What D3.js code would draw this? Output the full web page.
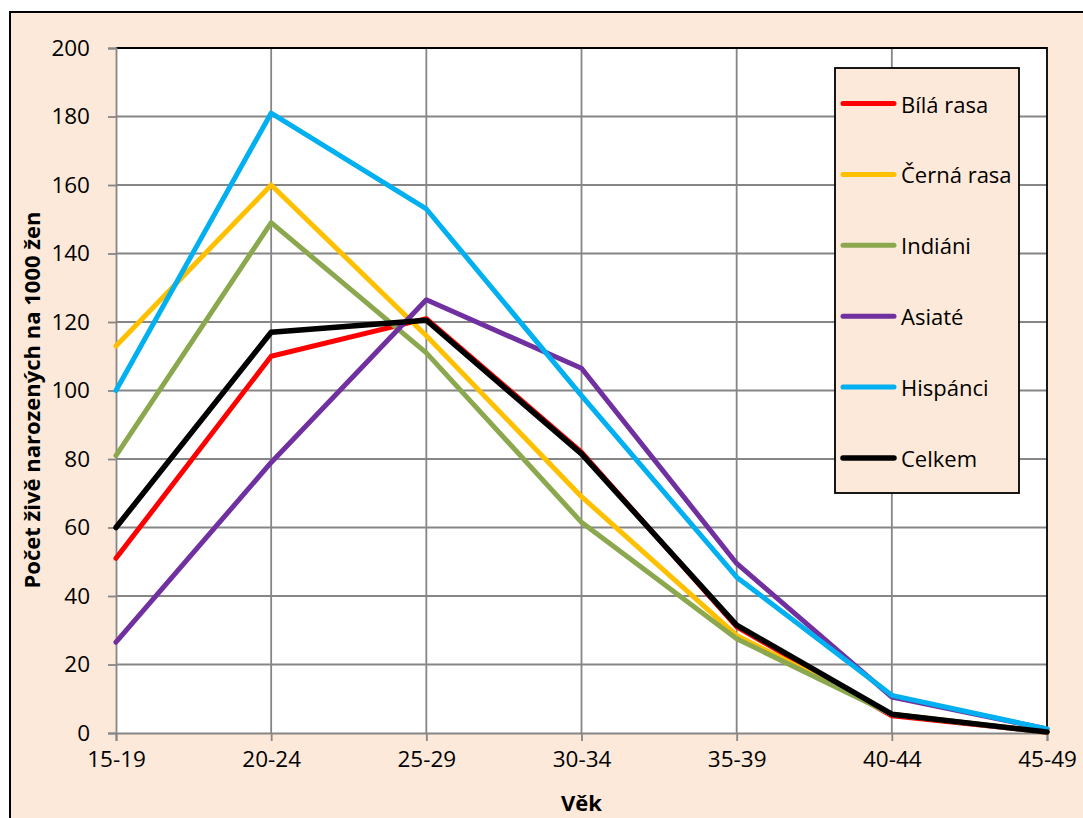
<!DOCTYPE html>
<html><head><meta charset="utf-8">
<script src="https://cdn.jsdelivr.net/npm/d3@7"></script>
<style>
html,body{margin:0;padding:0;background:#fff;}
svg{display:block;}
text{font-family:"Open Sans",sans-serif;fill:#000;}
</style></head>
<body>
<script>
const categories = ["15-19","20-24","25-29","30-34","35-39","40-44","45-49"];
const yTicks = [0,20,40,60,80,100,120,140,160,180,200];
const seriesNames = ["Bílá rasa","Černá rasa","Indiáni","Asiaté","Hispánci","Celkem"];
const seriesColors = ["#FF0000","#FFC000","#8CA84E","#7030A0","#00B0F0","#000000"];
const bila     = [51, 110, 121, 82, 31, 5, 0.3];
const cerna    = [113, 160, 116, 69, 28.5, 5.5, 0.3];
const indiani  = [81, 149, 111, 61.5, 27.5, 5.5, 0.3];
const asiate   = [26.5, 79, 126.5, 106.5, 49.5, 10.5, 1.2];
const hispanci = [100, 181, 153, 98.5, 45.5, 11, 1.2];
const celkem   = [60, 117, 120.5, 81.5, 31.5, 5.5, 0.3];
const seriesValues = [bila, cerna, indiani, asiate, hispanci, celkem];
const yTitle = "Počet živě narozených na 1000 žen";
const xTitle = "Věk";

const W = 1083, H = 818;
const svg = d3.select("body").append("svg").attr("width", W).attr("height", H);

// chart area background + border
svg.append("rect").attr("x", 10).attr("y", 12).attr("width", W + 20).attr("height", H + 20)
  .attr("fill", "#FDE9D9").attr("stroke", "#000").attr("stroke-width", 2);

const plot = {left: 116, right: 1047, top: 48, bottom: 733};
const x = d3.scalePoint().domain(categories).range([plot.left, plot.right]);
const y = d3.scaleLinear().domain([0, 200]).range([plot.bottom, plot.top]);

svg.append("rect").attr("x", plot.left).attr("y", plot.top)
  .attr("width", plot.right - plot.left).attr("height", plot.bottom - plot.top)
  .attr("fill", "#fff");

const grid = "#868686";
// horizontal grid
svg.append("g").selectAll("line").data(yTicks.filter(d => d > 0)).join("line")
  .attr("x1", plot.left).attr("x2", plot.right)
  .attr("y1", d => y(d)).attr("y2", d => y(d))
  .attr("stroke", grid).attr("stroke-width", 1.8);
// vertical grid
svg.append("g").selectAll("line").data(categories.slice(1, -1)).join("line")
  .attr("x1", d => x(d)).attr("x2", d => x(d))
  .attr("y1", plot.top).attr("y2", plot.bottom)
  .attr("stroke", grid).attr("stroke-width", 1.8);

// plot border top/right
svg.append("path")
  .attr("d", `M${plot.left},${plot.top}H${plot.right}V${plot.bottom}`)
  .attr("fill", "none").attr("stroke", "#000").attr("stroke-width", 1.8);

// axes
const yAxis = d3.axisLeft(y).tickValues(yTicks).tickSize(8).tickPadding(18);
const gy = svg.append("g").attr("transform", `translate(${plot.left},0)`).call(yAxis);
gy.select(".domain").attr("stroke", grid).attr("stroke-width", 1.8);
gy.selectAll(".tick line").attr("stroke", grid).attr("stroke-width", 1.8);
gy.selectAll(".tick text").attr("font-size", 22.5).attr("font-family", "Open Sans").attr("fill", "#000");

const xAxis = d3.axisBottom(x).tickSize(8).tickPadding(10);
const gx = svg.append("g").attr("transform", `translate(0,${plot.bottom})`).call(xAxis);
gx.select(".domain").attr("stroke", grid).attr("stroke-width", 1.8);
gx.selectAll(".tick line").attr("stroke", grid).attr("stroke-width", 1.8);
gx.selectAll(".tick text").attr("font-size", 22.5).attr("font-family", "Open Sans").attr("fill", "#000");

// lines
const line = d3.line().x((d, i) => x(categories[i])).y(d => y(d));
svg.append("g").selectAll("path").data(seriesValues).join("path")
  .attr("d", d => line(d))
  .attr("fill", "none")
  .attr("stroke", (d, i) => seriesColors[i])
  .attr("stroke-width", (d, i) => i === 5 ? 5.5 : 5)
  .attr("stroke-linejoin", "round")
  .attr("stroke-linecap", "round");

// axis titles
svg.append("text")
  .attr("transform", `translate(31,400) rotate(-90)`)
  .attr("text-anchor", "middle").attr("dominant-baseline", "central")
  .attr("font-size", 22).attr("font-weight", "bold").text(yTitle);
svg.append("text")
  .attr("x", (plot.left + plot.right) / 2).attr("y", 811)
  .attr("text-anchor", "middle")
  .attr("font-size", 22).attr("font-weight", "bold").text(xTitle);

// legend
const lg = svg.append("g");
lg.append("rect").attr("x", 835).attr("y", 68).attr("width", 184).attr("height", 425)
  .attr("fill", "#FDE9D9").attr("stroke", "#000").attr("stroke-width", 1.8);
const ly = d3.scalePoint().domain(seriesNames).range([103.5, 458]);
const items = lg.selectAll("g.item").data(seriesNames).join("g").attr("class", "item")
  .attr("transform", d => `translate(0,${ly(d)})`);
items.append("line").attr("x1", 843).attr("x2", 894).attr("y1", 0).attr("y2", 0)
  .attr("stroke", (d, i) => seriesColors[i]).attr("stroke-width", (d, i) => i === 5 ? 5.5 : 5)
  .attr("stroke-linecap", "round");
items.append("text").attr("x", 901).attr("y", 0).attr("dominant-baseline", "central")
  .attr("font-size", 22).text(d => d);
</script>
</body></html>
